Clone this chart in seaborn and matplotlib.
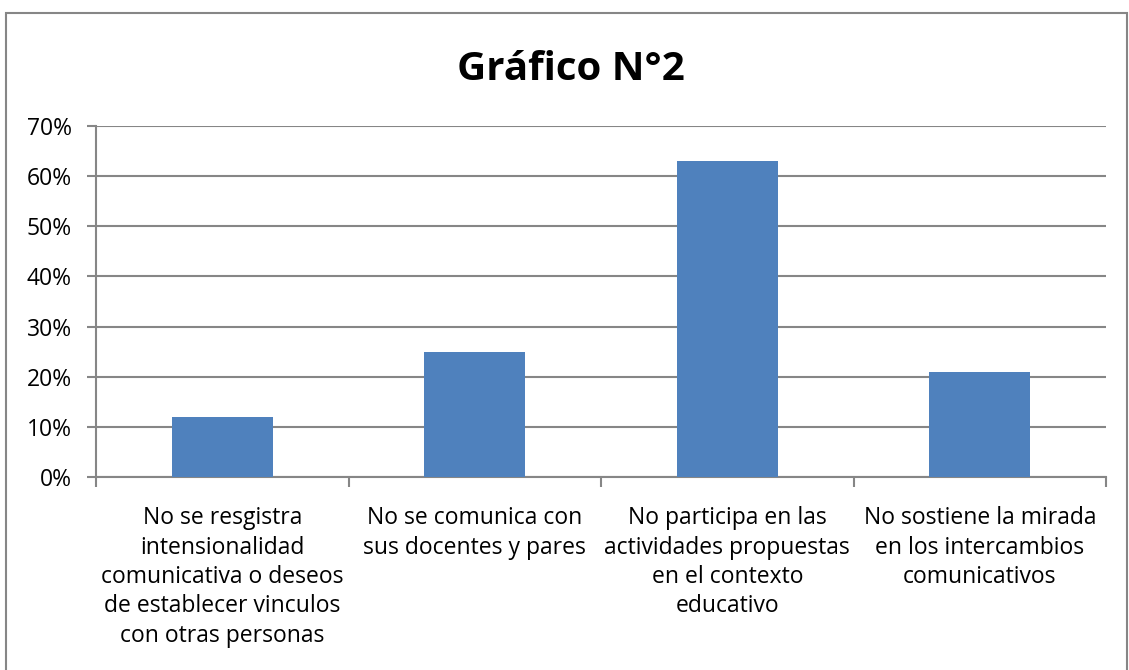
import matplotlib
matplotlib.use("Agg")
import matplotlib.pyplot as plt
import matplotlib.patches as mpatches
from matplotlib.ticker import PercentFormatter
import pandas as pd
import seaborn as sns

# Data
categorias = [
    "No se resgistra\nintensionalidad\ncomunicativa o deseos\nde establecer vinculos\ncon otras personas",
    "No se comunica con\nsus docentes y pares",
    "No participa en las\nactividades propuestas\nen el contexto\neducativo",
    "No sostiene la mirada\nen los intercambios\ncomunicativos",
]
porcentajes = [0.12, 0.25, 0.63, 0.21]
titulo = "Gráfico N°2"

df = pd.DataFrame({"categoria": categorias, "valor": porcentajes})

sns.set_theme(style="white")
plt.rcParams["font.family"] = ["Open Sans", "DejaVu Sans"]
plt.rcParams["text.color"] = "black"

GRID = "#868686"

fig = plt.figure(figsize=(11.29, 6.70), dpi=100)
ax = fig.add_axes([96 / 1129, 1 - 477 / 670, (1106 - 96) / 1129, (477 - 126) / 670])

sns.barplot(data=df, x="categoria", y="valor", color="#4F81BD",
            saturation=1, width=0.4, linewidth=0, edgecolor="none",
            ax=ax, zorder=3)

ax.set_ylim(0, 0.7)
ax.set_xlim(-0.5, 3.5)
ax.set_yticks([i / 10 for i in range(8)])
ax.yaxis.set_major_formatter(PercentFormatter(1.0, decimals=0))
ax.grid(axis="y", color=GRID, linewidth=1.5, zorder=0)
ax.set_axisbelow(True)

ax.set_xlabel("")
ax.set_ylabel("")
for side in ("top", "right"):
    ax.spines[side].set_visible(False)
for side in ("left", "bottom"):
    ax.spines[side].set_color(GRID)
    ax.spines[side].set_linewidth(1.5)

ax.tick_params(axis="y", length=6.5, width=1.5, color=GRID, labelsize=16.5,
               labelcolor="black", pad=11, left=True)
ax.tick_params(axis="x", which="major", length=0, labelsize=16.5,
               labelcolor="black", pad=21)
ax.set_xticks([-0.5, 0.5, 1.5, 2.5, 3.5], minor=True)
ax.tick_params(axis="x", which="minor", length=7, width=1.5, color=GRID,
               bottom=True, direction="out")
for lbl in ax.get_xticklabels():
    lbl.set_linespacing(1.3)
    lbl.set_verticalalignment("top")

fig.text(571 / 1129, 1 - 70 / 670, titulo, ha="center", va="center",
         fontsize=29, fontweight="bold", color="black")

# Outer chart border
border = mpatches.Rectangle((6 / 1129, -0.05), (1127 - 6) / 1129, 1.05 - 13 / 670,
                            transform=fig.transFigure, fill=False,
                            edgecolor=GRID, linewidth=1.5)
fig.patches.append(border)

fig.savefig("out.png", dpi=100)
